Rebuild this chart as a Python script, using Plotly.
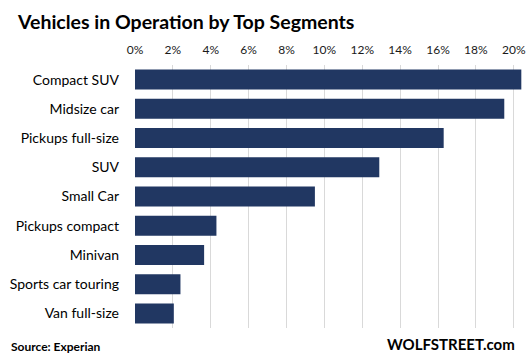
import plotly.graph_objects as go

categories = ["Compact SUV", "Midsize car", "Pickups full-size", "SUV", "Small Car",
              "Pickups compact", "Minivan", "Sports car touring", "Van full-size"]
values = [20.4, 19.5, 16.3, 12.9, 9.5, 4.3, 3.65, 2.4, 2.05]
tick_vals = [0, 2, 4, 6, 8, 10, 12, 14, 16, 18, 20]
tick_text = [f"{v}%" for v in tick_vals]

FONT = "Lato, Open Sans, sans-serif"

fig = go.Figure(go.Bar(
    x=values, y=categories, orientation="h",
    marker=dict(color="#213762", line=dict(width=0)),
))

fig.update_layout(
    width=528, height=359,
    margin=dict(l=135, r=1, t=65, b=31, autoexpand=False),
    plot_bgcolor="white", paper_bgcolor="white",
    bargap=0.315,
    showlegend=False,
    font=dict(family=FONT, color="#000000"),
    title=dict(text="<b>Vehicles in Operation by Top Segments</b>",
               x=18/528, xanchor="left", y=1 - 22/359, yanchor="middle",
               font=dict(size=19.5, family=FONT, color="#000000")),
    xaxis=dict(side="top", range=[0, 20.7], tickvals=tick_vals, ticktext=tick_text,
               showgrid=True, gridcolor="#d9d9d9", gridwidth=1,
               zeroline=False, showline=False, ticks="", automargin=False,
               ticklabelstandoff=8,
               tickfont=dict(size=12, family=FONT, color="#1a1a1a"),
               fixedrange=True),
    yaxis=dict(categoryorder="array", categoryarray=categories, autorange="reversed",
               showgrid=False, zeroline=False, showline=False, ticks="", automargin=False,
               ticklabelstandoff=15,
               tickfont=dict(size=14, family=FONT, color="#000000"),
               fixedrange=True),
    annotations=[
        dict(text="<b>Source: Experian</b>", xref="paper", yref="paper",
             x=(9 - 135) / 392, y=(328 - 346) / 263, xanchor="left", yanchor="middle",
             showarrow=False, font=dict(size=12, family=FONT, color="#000000")),
        dict(text="<b>WOLFSTREET.com</b>", xref="paper", yref="paper",
             x=(517 - 135) / 392, y=(328 - 344) / 263, xanchor="right", yanchor="middle",
             showarrow=False, font=dict(size=15, family=FONT, color="#000000")),
    ],
)

fig.write_html("out.html", config={"displayModeBar": False},
               post_script="document.body.style.margin='0';document.body.style.overflow='hidden';")
